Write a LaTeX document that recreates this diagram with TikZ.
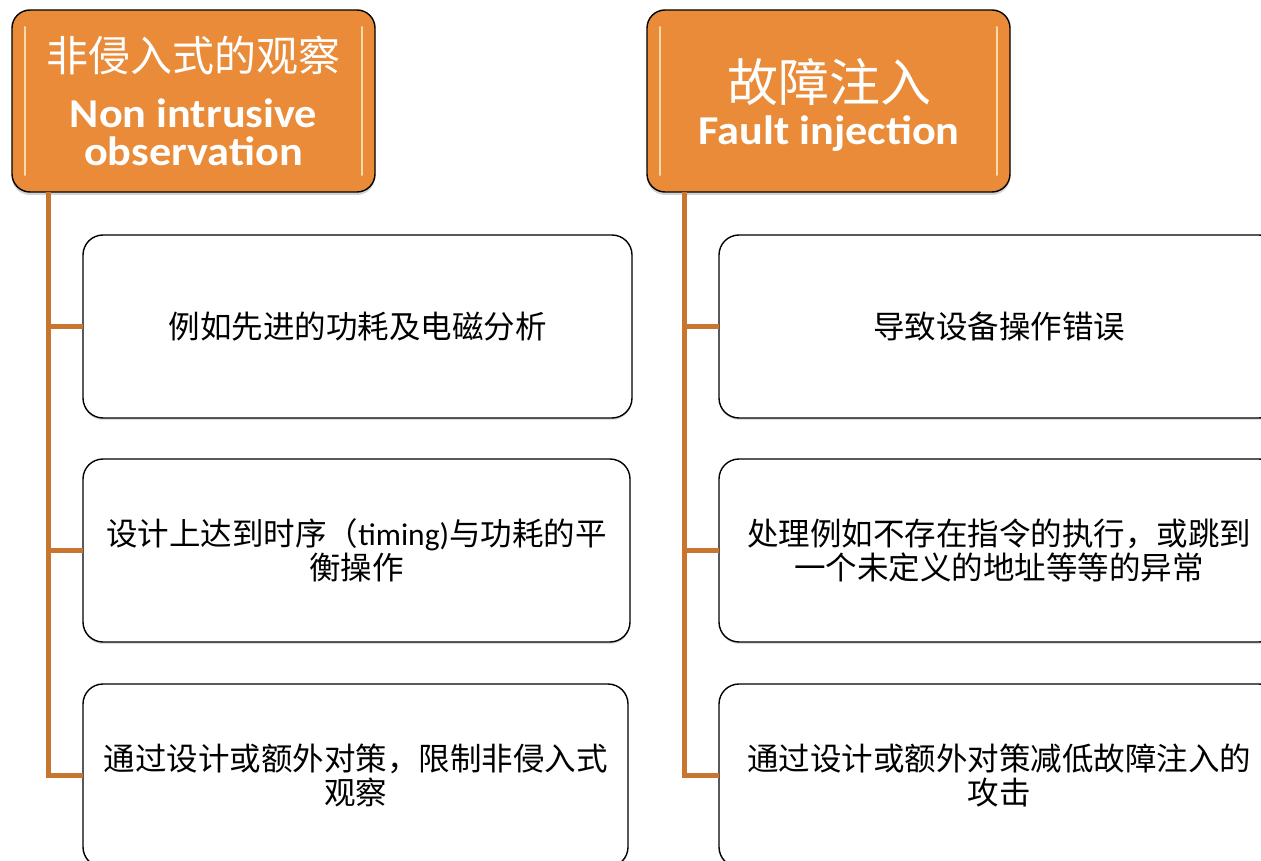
\documentclass[tikz,border=0pt]{standalone}
\usepackage{fontspec}
\setmainfont{Carlito}
\newfontfamily\cjk{Noto Sans CJK SC}
\newfontfamily\headfont[FakeStretch=1.08]{Carlito}
\usetikzlibrary{shadows}

\definecolor{headorange}{RGB}{233,139,56}
\definecolor{trunkorange}{RGB}{200,117,47}
\definecolor{gloss}{RGB}{255,232,190}

\begin{document}
\begin{tikzpicture}[x=1pt,y=-1pt,
  head/.style={draw=black, line width=1.4pt, fill=headorange,
    rounded corners=18pt, minimum width=363pt, minimum height=182pt,
    anchor=north west, inner sep=0pt, outer sep=0pt,
    drop shadow={shadow xshift=0pt, shadow yshift=-3pt, opacity=0.35}},
  headcn/.style={text=white, font=\cjk\fontsize{42}{46}\selectfont},
  headcnbig/.style={text=white, font=\cjk\fontsize{51}{56}\selectfont},
  headen/.style={text=white, align=center, inner sep=1pt,
    font=\headfont\bfseries\fontsize{41}{38}\selectfont},
  item/.style={draw=black, line width=1.4pt, fill=white, rounded corners=20pt,
    anchor=north west, minimum height=183pt, inner sep=0pt, outer sep=0pt,
    align=center, font=\cjk\fontsize{31.5}{34}\selectfont,
    drop shadow={shadow xshift=0pt, shadow yshift=-2pt, opacity=0.25}},
  trunk/.style={draw=trunkorange, line width=5pt},
  shine/.style={draw=gloss, line width=2pt, line cap=round, opacity=0.85}
]
\useasboundingbox (0,0) rectangle (1261,861);
\clip (0,0) rectangle (1261,861);

% header boxes
\node[head] (h1) at (12,10) {};
\node[head] (h2) at (647,10) {};
\draw[shine] (25,27) -- (25,175);
\draw[shine] (362,27) -- (362,175);
\draw[shine] (660,27) -- (660,175);
\draw[shine] (997,27) -- (997,175);

\node[headcn] (h1cn) at (193.5,55) {非侵入式的观察};
\node[headen, anchor=base] (h1en) at (193.5,128) {Non intrusive};
\node[headen, anchor=base] (h1en2) at (193.5,166) {observation};
\node[headcnbig] (h2cn) at (829,82) {故障注入};
\node[headen, anchor=base] (h2en) at (829,145) {Fault injection};

% left column items
\node[item, minimum width=549pt] (l1) at (83,235) {例如先进的功耗及电磁分析};
\node[item, minimum width=547pt] (l2) at (83,459)
  {设计上达到时序（{\rmfamily timing)}与功耗的平\\衡操作};
\node[item, minimum width=545pt] (l3) at (83,684)
  {通过设计或额外对策，限制非侵入式\\观察};

% right column items
\node[item, minimum width=560pt] (r1) at (719,235) {导致设备操作错误};
\node[item, minimum width=560pt] (r2) at (719,459)
  {处理例如不存在指令的执行，或跳到\\一个未定义的地址等等的异常};
\node[item, minimum width=560pt] (r3) at (719,684)
  {通过设计或额外对策减低故障注入的\\攻击};

% connectors
\draw[trunk] ([xshift=36pt]h1.south west) |- (l1.west);
\draw[trunk] ([xshift=36pt]h1.south west) |- (l2.west);
\draw[trunk] ([xshift=36pt]h1.south west) |- (l3.west);
\draw[trunk] ([xshift=37pt]h2.south west) |- (r1.west);
\draw[trunk] ([xshift=37pt]h2.south west) |- (r2.west);
\draw[trunk] ([xshift=37pt]h2.south west) |- (r3.west);
\end{tikzpicture}
\end{document}
